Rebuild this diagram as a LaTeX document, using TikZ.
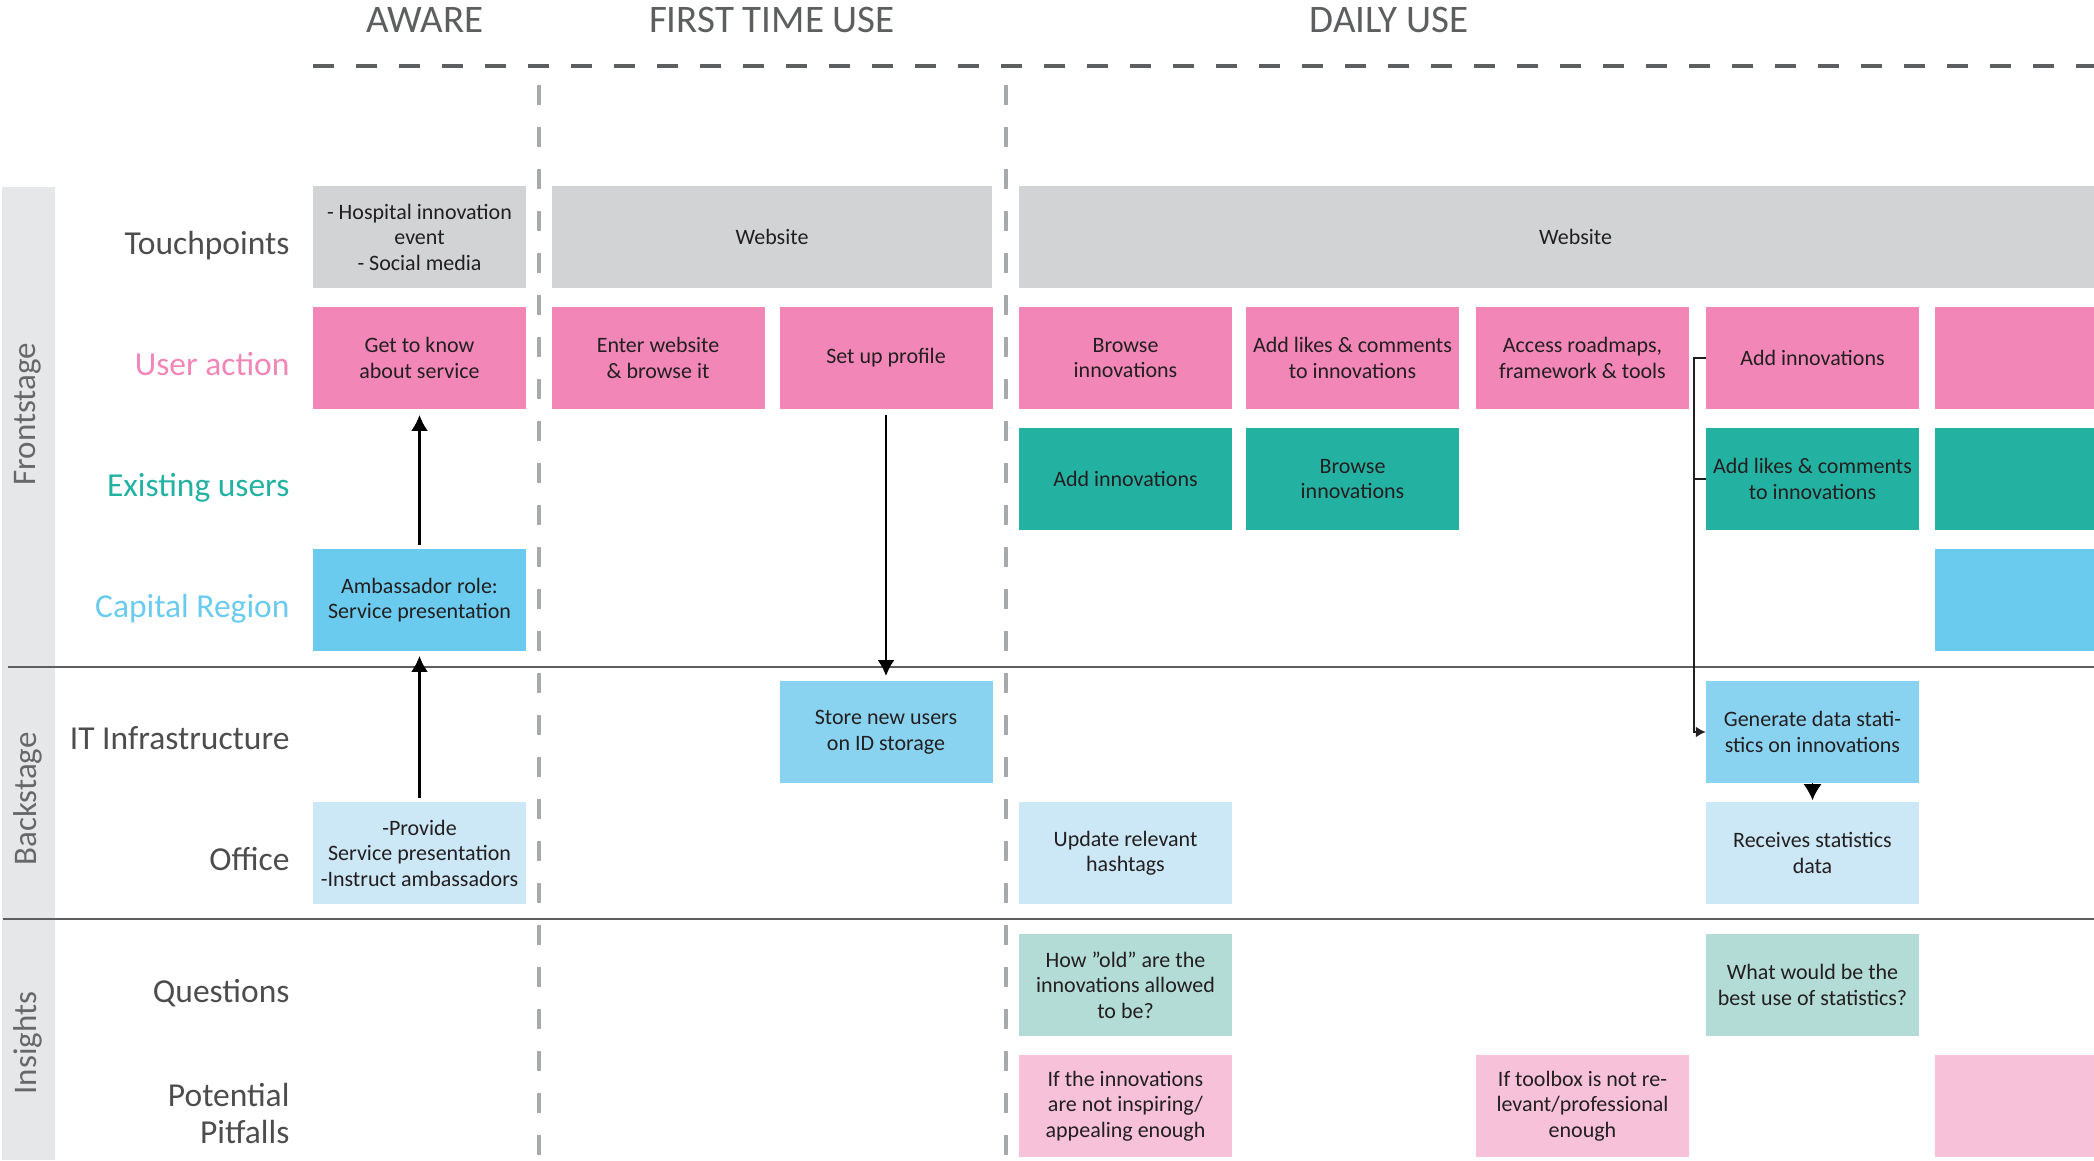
\documentclass[tikz,border=0pt]{standalone}
\usepackage{fontspec}
\setmainfont{Carlito}
\usetikzlibrary{arrows.meta}

\definecolor{tpgray}{HTML}{D1D3D4}
\definecolor{uapink}{HTML}{F287B7}
\definecolor{euteal}{HTML}{23B2A2}
\definecolor{crblue}{HTML}{6BCBEF}
\definecolor{itblue}{HTML}{89D3F1}
\definecolor{ofblue}{HTML}{CCE7F5}
\definecolor{qugreen}{HTML}{B3DCD6}
\definecolor{pfpink}{HTML}{F6C1D9}
\definecolor{stripgray}{HTML}{E6E7E8}
\definecolor{linegray}{HTML}{5D5E60}
\definecolor{dashgray}{HTML}{A7A9AC}
\definecolor{labelgray}{HTML}{4D4D4F}
\definecolor{boxtext}{HTML}{231F20}

\tikzset{
  card/.style={minimum width=213pt, minimum height=101.5pt, inner sep=0pt,
    align=center, text=boxtext, font=\fontsize{22}{25.5}\selectfont},
  rowlabel/.style={anchor=base east, font=\fontsize{33.5}{37}\selectfont,
    text=labelgray, align=right},
  phase/.style={anchor=base, font=\fontsize{39}{40}\selectfont, text=linegray},
  stage/.style={rotate=90, font=\fontsize{33}{36}\selectfont, text=labelgray!85},
  flow/.style={line width=2.2pt, -{Latex[length=16pt,width=17pt]}},
  phaseline/.style={dashgray, line width=3.5pt, dash pattern=on 20pt off 22pt},
  swimline/.style={linegray, line width=2.7pt}
}

\begin{document}
\begin{tikzpicture}[x=1pt,y=-1pt]
  \useasboundingbox (0,0) rectangle (2094,1160);
  \clip (0,0) rectangle (2094,1160);

  % side strip
  \fill[stripgray] (2,187) rectangle (55,1160);
  \node[stage] (front) at (28,414) {Frontstage};
  \node[stage] (back) at (28,799) {Backstage};
  \node[stage] (insight) at (28,1043) {Insights};

  % phases
  \node[phase] (aware) at (425,32) {AWARE};
  \node[phase] (first) at (772,32) {FIRST TIME USE};
  \node[phase] (daily) at (1389,32) {DAILY USE};
  \draw[linegray, line width=4.5pt, dash pattern=on 21pt off 22pt] (313,66) -- (2094,66);
  \draw[phaseline] (539,85) -- (539,1160);
  \draw[phaseline] (1006,85) -- (1006,1160);
  \draw[swimline] (8,667) -- (2094,667);
  \draw[swimline] (3,919) -- (2094,919);

  % row labels
  \node[rowlabel] (ltp) at (293,254) {Touchpoints};
  \node[rowlabel, text=uapink] (lua) at (293,375) {User action};
  \node[rowlabel, text=euteal] (leu) at (293,496) {Existing users};
  \node[rowlabel, text=crblue] (lcr) at (293,617) {Capital Region};
  \node[rowlabel] (lit) at (293,749) {IT Infrastructure};
  \node[rowlabel] (lof) at (293,870) {Office};
  \node[rowlabel] (lqu) at (293,1002) {Questions};
  \node[rowlabel] (lpf) at (293,1143) {Potential\\Pitfalls};

  % touchpoints
  \node[card, fill=tpgray] (tp1) at (419.5,237) {- Hospital innovation\\event\\- Social media};
  \node[card, fill=tpgray, minimum width=440pt] (tp2) at (772,237) {Website};
  \node[card, fill=tpgray, minimum width=1113pt] (tp3) at (1575.5,237) {Website};

  % user action
  \node[card, fill=uapink] (ua1) at (419.5,358) {Get to know\\about service};
  \node[card, fill=uapink] (ua2) at (658,358) {Enter website\\\& browse it};
  \node[card, fill=uapink] (ua3) at (886,358) {Set up profile};
  \node[card, fill=uapink] (ua4) at (1125.5,358) {Browse\\innovations};
  \node[card, fill=uapink] (ua5) at (1352.5,358) {Add likes \& comments\\to innovations};
  \node[card, fill=uapink] (ua6) at (1582.5,358) {Access roadmaps,\\framework \& tools};
  \node[card, fill=uapink] (ua7) at (1812.5,358) {Add innovations};
  \node[card, fill=uapink] (ua8) at (2041.5,358) {};

  % existing users
  \node[card, fill=euteal] (eu4) at (1125.5,479) {Add innovations};
  \node[card, fill=euteal] (eu5) at (1352.5,479) {Browse\\innovations};
  \node[card, fill=euteal] (eu7) at (1812.5,479) {Add likes \& comments\\to innovations};
  \node[card, fill=euteal] (eu8) at (2041.5,479) {};

  % capital region
  \node[card, fill=crblue] (cr1) at (419.5,600) {Ambassador role:\\Service presentation};
  \node[card, fill=crblue] (cr8) at (2041.5,600) {};

  % backstage
  \node[card, fill=itblue] (it3) at (886,732) {Store new users\\on ID storage};
  \node[card, fill=itblue] (it7) at (1812.5,732) {Generate data stati-\\stics on innovations};
  \node[card, fill=ofblue] (of1) at (419.5,853) {-Provide\\Service presentation\\-Instruct ambassadors};
  \node[card, fill=ofblue] (of4) at (1125.5,853) {Update relevant\\hashtags};
  \node[card, fill=ofblue] (of7) at (1812.5,853) {Receives statistics\\data};

  % insights
  \node[card, fill=qugreen] (qu4) at (1125.5,985) {How ”old” are the\\innovations allowed\\to be?};
  \node[card, fill=qugreen] (qu7) at (1812.5,985) {What would be the\\best use of statistics?};
  \node[card, fill=pfpink] (pf4) at (1125.5,1106) {If the innovations\\are not inspiring/\\appealing enough};
  \node[card, fill=pfpink] (pf6) at (1582.5,1106) {If toolbox is not re-\\levant/professional\\enough};
  \node[card, fill=pfpink] (pf8) at (2041.5,1106) {};

  % connectors
  \draw[flow, shorten <=4pt, shorten >=6pt] (cr1.north) -- (ua1.south);
  \draw[flow, shorten <=4pt, shorten >=5pt] (of1.north) -- (cr1.south);
  \draw[flow, shorten <=6pt, shorten >=5pt] (ua3.south) -- (it3.north);
  \draw[boxtext, line width=2pt, -{Latex[length=10pt,width=11pt]}]
    (ua7.west) -- ++(-12,0) |- (it7.west);
  \draw[boxtext, line width=2pt] (eu7.west) -- ++(-12,0);
  \draw[line width=1pt, -{Latex[length=16pt,width=18pt]}, shorten >=2pt] (it7.south) -- (of7.north);
\end{tikzpicture}
\end{document}
